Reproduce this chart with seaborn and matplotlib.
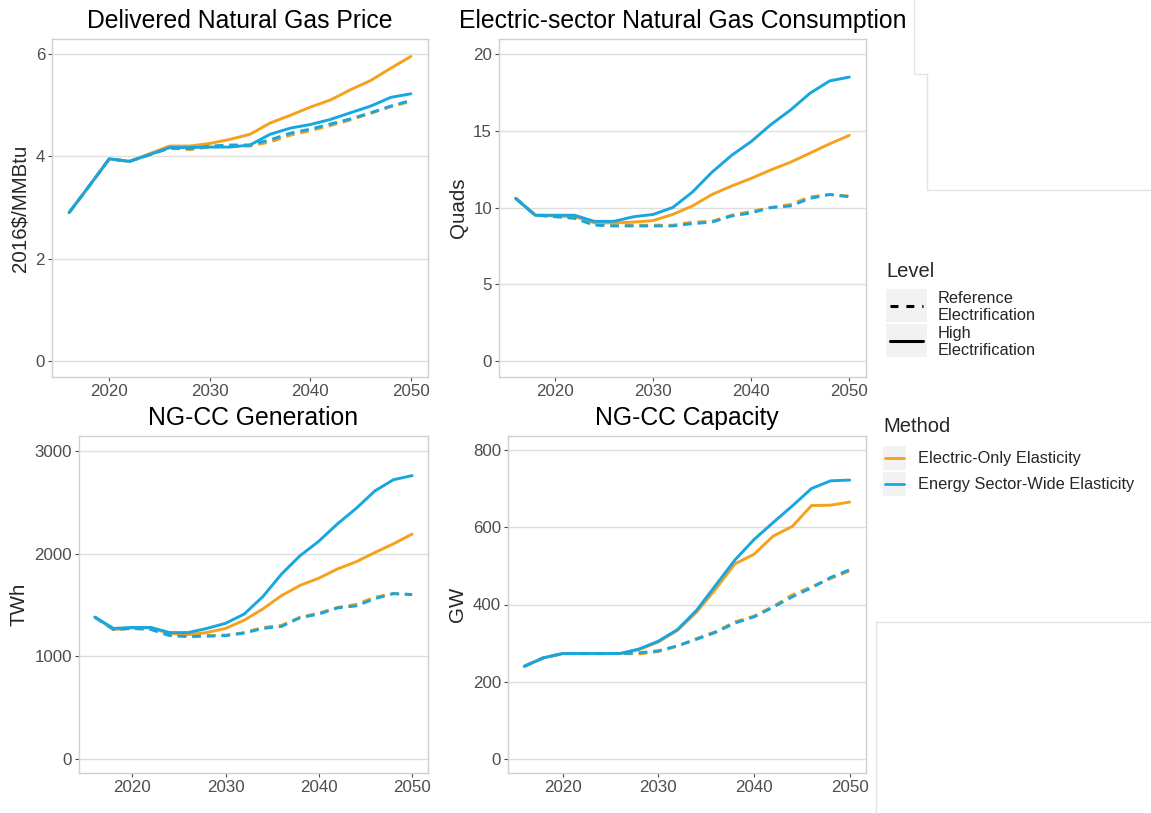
import matplotlib
matplotlib.use('Agg')
import matplotlib.pyplot as plt
import seaborn as sns
import pandas as pd
from matplotlib.lines import Line2D
from matplotlib.patches import Rectangle
from matplotlib.legend_handler import HandlerBase

# datos
years = list(range(2016, 2051, 2))

methods = ['Electric-Only Elasticity', 'Energy Sector-Wide Elasticity']
levels = ['Reference Electrification', 'High Electrification']

# Delivered Natural Gas Price (2016$/MMBtu)
price_eo_ref = [2.9, 3.42, 3.95, 3.9, 4.03, 4.16, 4.13, 4.18, 4.2, 4.2, 4.28, 4.41, 4.5, 4.6, 4.71, 4.84, 4.97, 5.07]
price_eo_high = [2.9, 3.42, 3.95, 3.9, 4.05, 4.2, 4.2, 4.25, 4.33, 4.43, 4.65, 4.8, 4.96, 5.1, 5.3, 5.48, 5.72, 5.95]
price_sw_ref = [2.9, 3.42, 3.95, 3.9, 4.03, 4.16, 4.15, 4.2, 4.22, 4.22, 4.32, 4.45, 4.53, 4.63, 4.73, 4.85, 4.98, 5.09]
price_sw_high = [2.9, 3.42, 3.95, 3.9, 4.03, 4.17, 4.17, 4.18, 4.18, 4.22, 4.43, 4.55, 4.62, 4.72, 4.85, 4.98, 5.15, 5.22]

# Electric-sector Natural Gas Consumption (Quads)
cons_eo_ref = [10.6, 9.5, 9.45, 9.35, 8.9, 8.85, 8.85, 8.85, 8.85, 9.05, 9.1, 9.5, 9.75, 10.0, 10.2, 10.7, 10.85, 10.75]
cons_eo_high = [10.6, 9.5, 9.45, 9.4, 9.0, 9.0, 9.05, 9.15, 9.55, 10.1, 10.85, 11.4, 11.9, 12.45, 12.95, 13.55, 14.15, 14.7]
cons_sw_ref = [10.6, 9.5, 9.4, 9.3, 8.85, 8.8, 8.8, 8.8, 8.8, 8.95, 9.05, 9.45, 9.65, 10.0, 10.1, 10.6, 10.85, 10.7]
cons_sw_high = [10.6, 9.5, 9.5, 9.5, 9.1, 9.1, 9.4, 9.55, 10.0, 11.0, 12.3, 13.4, 14.3, 15.4, 16.35, 17.45, 18.25, 18.5]

# NG-CC Generation (TWh)
gen_eo_ref = [1380, 1260, 1270, 1265, 1210, 1200, 1200, 1205, 1230, 1280, 1300, 1380, 1420, 1475, 1505, 1575, 1610, 1600]
gen_eo_high = [1380, 1260, 1275, 1275, 1220, 1210, 1230, 1270, 1350, 1460, 1590, 1690, 1760, 1850, 1920, 2010, 2095, 2190]
gen_sw_ref = [1380, 1260, 1270, 1260, 1200, 1190, 1195, 1200, 1225, 1270, 1290, 1375, 1410, 1470, 1490, 1560, 1610, 1600]
gen_sw_high = [1380, 1270, 1280, 1280, 1230, 1230, 1270, 1320, 1410, 1580, 1800, 1980, 2120, 2290, 2440, 2610, 2720, 2760]

# NG-CC Capacity (GW)
cap_eo_ref = [240, 262, 273, 273, 273, 273, 272, 278, 292, 312, 330, 355, 370, 395, 425, 446, 467, 487]
cap_eo_high = [240, 262, 273, 273, 273, 273, 283, 303, 333, 380, 440, 505, 530, 577, 602, 656, 657, 665]
cap_sw_ref = [240, 262, 273, 273, 273, 273, 275, 280, 293, 310, 328, 352, 368, 393, 420, 443, 470, 490]
cap_sw_high = [240, 262, 273, 273, 273, 273, 285, 305, 335, 385, 450, 515, 568, 612, 655, 700, 720, 722]


def datos_largos(eo_ref, eo_high, sw_ref, sw_high):
    filas = []
    series = [(methods[0], levels[0], eo_ref), (methods[0], levels[1], eo_high),
              (methods[1], levels[0], sw_ref), (methods[1], levels[1], sw_high)]
    for m, l, vals in series:
        for y, v in zip(years, vals):
            filas.append({'year': y, 'value': v, 'Method': m, 'Level': l})
    return pd.DataFrame(filas)


paneles = [
    ('Delivered Natural Gas Price', '2016$/MMBtu', datos_largos(price_eo_ref, price_eo_high, price_sw_ref, price_sw_high),
     [0, 2, 4, 6], (-0.31, 6.29), [52, 377, 376, 338]),
    ('Electric-sector Natural Gas Consumption', 'Quads', datos_largos(cons_eo_ref, cons_eo_high, cons_sw_ref, cons_sw_high),
     [0, 5, 10, 15, 20], (-1.04, 20.98), [499, 377, 367, 338]),
    ('NG-CC Generation', 'TWh', datos_largos(gen_eo_ref, gen_eo_high, gen_sw_ref, gen_sw_high),
     [0, 1000, 2000, 3000], (-139, 3146), [79, 773, 349, 337]),
    ('NG-CC Capacity', 'GW', datos_largos(cap_eo_ref, cap_eo_high, cap_sw_ref, cap_sw_high),
     [0, 200, 400, 600, 800], (-36, 836), [508, 773, 358, 337]),
]

colores = {methods[0]: '#F5A11C', methods[1]: '#17A6DF'}
rayas = {levels[0]: (3, 2), levels[1]: ''}

sns.set_style('white')
plt.rcParams['font.family'] = ['Liberation Sans', 'DejaVu Sans']

W, H = 1151, 813
fig = plt.figure(figsize=(W / 100, H / 100), dpi=100)

for titulo, ylab, df, yticks, ylim, (x0, yb, w, h) in paneles:
    ax = fig.add_axes([x0 / W, (H - yb) / H, w / W, h / H])
    sns.lineplot(data=df, x='year', y='value', hue='Method', style='Level',
                 hue_order=methods, style_order=levels, palette=colores, dashes=rayas,
                 linewidth=2.1, errorbar=None, legend=False, ax=ax)
    ax.set_xlim(2014.3, 2051.7)
    ax.set_ylim(*ylim)
    ax.set_xticks([2020, 2030, 2040, 2050])
    ax.set_yticks(yticks)
    ax.grid(axis='y', color='#DEDEDE', linewidth=1.0)
    ax.grid(axis='x', visible=False)
    ax.set_axisbelow(True)
    for s in ax.spines.values():
        s.set_color('#CFCFCF')
        s.set_linewidth(1.0)
    ax.tick_params(axis='both', which='major', length=3, width=0.8, color='#4D4D4D',
                   labelcolor='#4D4D4D', labelsize=12.2, bottom=True, left=True, pad=2)
    ax.set_title(titulo, fontsize=17.8, pad=8, color='black')
    ax.set_ylabel(ylab, fontsize=14.8, labelpad=4)
    ax.set_xlabel('')


class ClaveGris(HandlerBase):
    # clave con fondo gris como en ggplot; alto y centro en puntos respecto a la linea base del texto
    def __init__(self, alto, centro):
        super().__init__()
        self.alto = alto
        self.centro = centro

    def create_artists(self, legend, orig_handle, xdescent, ydescent, width, height, fontsize, trans):
        fondo = Rectangle((-xdescent, self.centro - self.alto / 2), width, self.alto,
                          facecolor='#F2F2F2', edgecolor='none', transform=trans)
        m = 0.1 * width
        ln = Line2D([-xdescent + m, width - xdescent - m], [self.centro, self.centro])
        ln.update_from(orig_handle)
        ln.set_transform(trans)
        return [fondo, ln]


h_level = [Line2D([], [], color='black', lw=2.2, dashes=(2.6, 2.6)),
           Line2D([], [], color='black', lw=2.2)]
leg1 = fig.legend(h_level, ['Reference\nElectrification', 'High\nElectrification'],
                  loc='upper left', bbox_to_anchor=(886 / W, 1 - 262 / H), frameon=False,
                  title='Level', title_fontsize=14.5, fontsize=11.8, alignment='left',
                  handlelength=2.5, handleheight=0.7, handletextpad=0.65, labelspacing=0.15,
                  borderpad=0, borderaxespad=0,
                  handler_map={Line2D: ClaveGris(23.5, 5.2)})
leg1._legend_box.sep = 7

h_method = [Line2D([], [], color=colores[methods[0]], lw=2.0),
            Line2D([], [], color=colores[methods[1]], lw=2.0)]
leg2 = fig.legend(h_method, methods,
                  loc='upper left', bbox_to_anchor=(883 / W, 1 - 417 / H), frameon=False,
                  title='Method', title_fontsize=14.5, fontsize=11.8, alignment='left',
                  handlelength=1.4, handleheight=0.7, handletextpad=0.72, labelspacing=0.68,
                  borderpad=0, borderaxespad=0,
                  handler_map={Line2D: ClaveGris(17.0, 3.6)})
leg2._legend_box.sep = 10.7

# bordes tenues que aparecen en la captura original
gris = '#E3E3E3'
for xs, ys in [([914, 914, 927, 927, 1151], [0, 74, 74, 190, 190]),
               ([1151, 876, 876], [622, 622, 813])]:
    fig.add_artist(Line2D([x / W for x in xs], [1 - y / H for y in ys], color=gris, lw=1.0))

plt.savefig('out.png', dpi=100)
